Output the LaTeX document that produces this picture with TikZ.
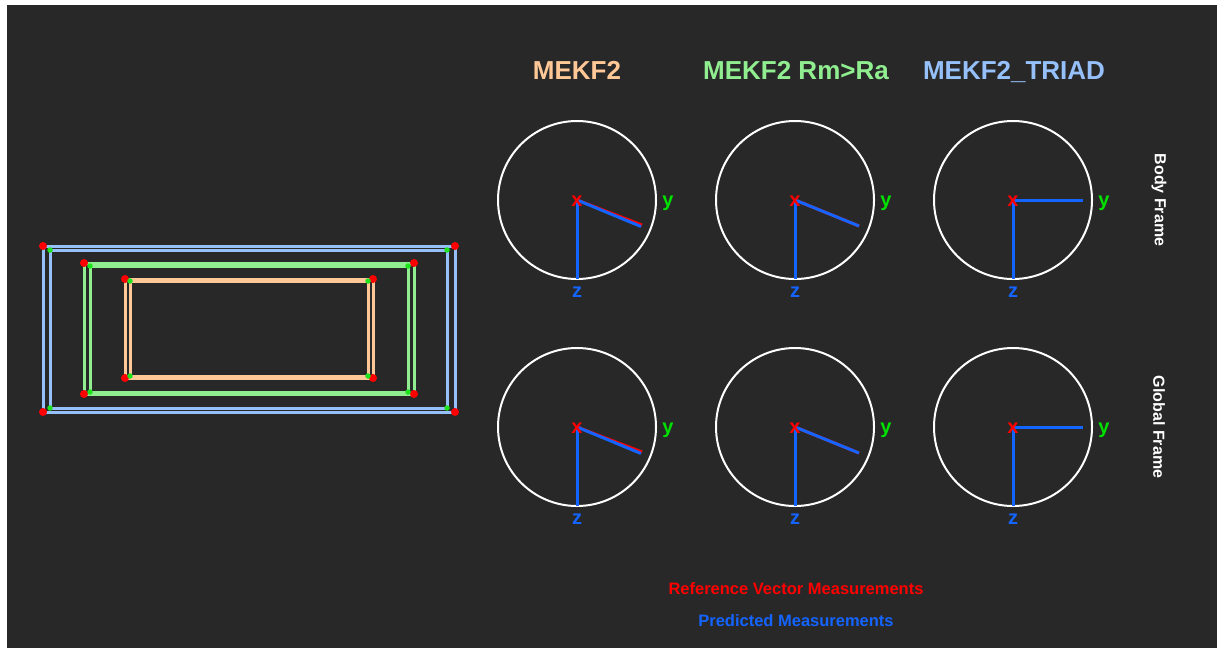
\documentclass[tikz,border=0pt]{standalone}
\usepackage{fontspec}
\setmainfont{Liberation Sans}
\definecolor{bg}{RGB}{40,40,40}
\definecolor{peach}{RGB}{255,200,150}
\definecolor{lgreen}{RGB}{144,238,144}
\definecolor{lblue}{RGB}{150,192,250}
\definecolor{vblue}{RGB}{20,100,255}
\definecolor{ygreen}{RGB}{0,225,0}
\definecolor{vred}{RGB}{255,0,0}
\tikzset{
  title/.style={font=\fontsize{26}{26}\selectfont\bfseries, anchor=base, inner sep=0},
  frame/.style={font=\fontsize{16}{16}\selectfont\bfseries, text=white, rotate=-90, inner sep=0},
  legend/.style={font=\fontsize{16.5}{16.5}\selectfont\bfseries, anchor=base, inner sep=0},
  ring/.style={circle, draw=white, line width=2pt, minimum size=158pt, inner sep=0},
  axlbl/.style={font=\fontsize{20}{20}\selectfont\bfseries, anchor=base, inner sep=0},
  vec/.style={line width=3pt, vblue},
  refvec/.style={line width=3pt, vred},
  outerdot/.style={circle, fill=vred, inner sep=0, minimum size=8pt},
  innerdot/.style={circle, fill=ygreen!80!lgreen, inner sep=0, minimum size=5.5pt},
}
\begin{document}
\begin{tikzpicture}[x=1pt,y=-1pt]
\useasboundingbox (0,0) rectangle (1217,648);
\fill[white] (0,0) rectangle (1217,648);
\fill[bg] (7,5) rectangle (1217,648);

% rectangles: blue, green, peach (outer + inner)
\foreach \n/\col/\ax/\ay/\bx/\by/\cx/\cy/\dx/\dy in {
  b/lblue/43/246/455/412/50/250/447/408,
  g/lgreen/84/263/414/394/90/266/408/392,
  p/peach/125/279/373/378/130/281/368/376}{
  \coordinate (\n o1) at (\ax,\ay);
  \coordinate (\n o2) at (\bx,\ay);
  \coordinate (\n o3) at (\bx,\by);
  \coordinate (\n o4) at (\ax,\by);
  \coordinate (\n i1) at (\cx,\cy);
  \coordinate (\n i2) at (\dx,\cy);
  \coordinate (\n i3) at (\dx,\dy);
  \coordinate (\n i4) at (\cx,\dy);
  \draw[\col, line width=3pt] (\n o1) -- (\n o2) -- (\n o3) -- (\n o4) -- cycle;
  \draw[\col, line width=3pt] (\n i1) -- (\n i2) -- (\n i3) -- (\n i4) -- cycle;
  \foreach \k in {1,2,3,4}{
    \node[outerdot] at (\n o\k) {};
    \node[innerdot] at (\n i\k) {};
  }
}

% titles
\node[title, text=peach] (t1) at (577,79) {MEKF2};
\node[title, text=lgreen] (t2) at (796,79) {MEKF2 Rm>Ra};
\node[title, text=lblue] (t3) at (1014,79) {MEKF2\_TRIAD};

% frame labels
\node[frame] (bf) at (1159,200) {Body Frame};
\node[frame] (gf) at (1159,427) {Global Frame};

% circles
\foreach \i/\x/\y/\rx/\ry/\bx/\by in {
  a/577/200/65/25/64/26.5,
  b/795/200/64/26/64/26,
  c/1013/200/70/0/70/0,
  d/577/427/65/25/64/26.5,
  e/795/427/64/26/64/26,
  f/1013/427/70/0/70/0}{
  \node[ring] (c\i) at (\x,\y) {};
  \coordinate (z\i) at (\x,\y+79);
  \coordinate (r\i) at (\x+\rx,\y+\ry);
  \coordinate (p\i) at (\x+\bx,\y+\by);
  \draw[refvec] (c\i.center) -- (r\i);
  \draw[vec] (c\i.center) -- (p\i);
  \draw[vec] (c\i.center) -- (z\i);
  \node[axlbl, text=vred] (x\i) at (\x,\y+6) {x};
  \node[axlbl, text=ygreen] (y\i) at (\x+91,\y+6) {y};
  \node[axlbl, text=vblue] (zl\i) at (\x,\y+97) {z};
}

% legend
\node[legend, text=vred] (l1) at (796,594) {Reference Vector Measurements};
\node[legend, text=vblue] (l2) at (796,626) {Predicted Measurements};
\end{tikzpicture}
\end{document}
